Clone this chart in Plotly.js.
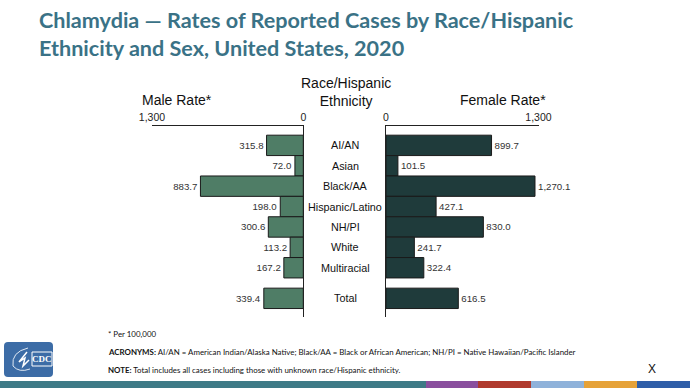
<!DOCTYPE html>
<html>
<head>
<meta charset="utf-8">
<script src="https://cdn.plot.ly/plotly-3.0.1.min.js"></script>
<style>
  html, body { margin: 0; padding: 0; background: #ffffff; }
  #chart { width: 690px; height: 388px; }
</style>
</head>
<body>
<div id="chart"></div>
<script>
// ---- Data ----
const categories = ["AI/AN", "Asian", "Black/AA", "Hispanic/Latino", "NH/PI", "White", "Multiracial", "Total"];
const maleRates = [315.8, 72.0, 883.7, 198.0, 300.6, 113.2, 167.2, 339.4];
const femaleRates = [899.7, 101.5, 1270.1, 427.1, 830.0, 241.7, 322.4, 616.5];
const tickValues = [0, 1300];
const tickLabels = ["0", "1,300"];

// ---- Layout helpers (pixel -> paper) ----
const W = 690, H = 388;
const px = x => x / W;
const py = y => 1 - y / H;

// Row positions: Total separated by an extra half row
const rowPos = categories.map((c, i) => c === "Total" ? i + 0.5 : i);

const maleColor = "#4f7d66";
const femaleColor = "#1f3b3b";
const outline = "#1a1a1a";
const labelFont = { family: "Liberation Sans, Arial, sans-serif", size: 9.7, color: "#333333" };

const traces = [
  {
    type: "bar", orientation: "h",
    x: maleRates, y: rowPos,
    xaxis: "x", yaxis: "y",
    marker: { color: maleColor, line: { color: outline, width: 1 } },
    texttemplate: "%{x:,.1f}", textposition: "outside",
    textfont: labelFont,
    cliponaxis: false, hoverinfo: "skip", showlegend: false
  },
  {
    type: "bar", orientation: "h",
    x: femaleRates, y: rowPos,
    xaxis: "x2", yaxis: "y2",
    marker: { color: femaleColor, line: { color: outline, width: 1 } },
    texttemplate: "%{x:,.1f}", textposition: "outside",
    textfont: labelFont,
    cliponaxis: false, hoverinfo: "skip", showlegend: false
  }
];

const axisFont = { family: "Liberation Sans, Arial, sans-serif", size: 10.5, color: "#222222" };
const yDomain = [py(316.7), py(126)];
const yRange = [8.4, -0.95];

const xCommon = {
  side: "top", showgrid: false, zeroline: false,
  showline: true, linecolor: "#222222", linewidth: 1,
  ticks: "inside", ticklen: 3, tickcolor: "#222222",
  tickvals: tickValues, ticktext: tickLabels, tickfont: axisFont,
  fixedrange: true
};

const annotations = [];
// Title
annotations.push({
  xref: "paper", yref: "paper", x: px(37), y: py(34), xanchor: "left", yanchor: "middle", align: "left",
  text: "<b>Chlamydia — Rates of Reported Cases by Race/Hispanic<br>Ethnicity and Sex, United States, 2020</b>",
  showarrow: false, font: { family: "Lato, Open Sans, sans-serif", size: 21.6, color: "#3a7286" }
});
// Category labels in the centre column
categories.forEach((c, i) => {
  annotations.push({
    xref: "paper", yref: "y", x: px(345), y: rowPos[i],
    text: c, showarrow: false, xanchor: "center", yanchor: "middle",
    font: { family: "Liberation Sans, Arial, sans-serif", size: 10.8, color: "#111111" }
  });
});
// Column headers
const headFont = { family: "Liberation Sans, Arial, sans-serif", size: 14, color: "#111111" };
annotations.push({ xref: "paper", yref: "paper", x: px(177), y: py(100), text: "Male Rate*", showarrow: false, xanchor: "center", yanchor: "middle", font: headFont });
annotations.push({ xref: "paper", yref: "paper", x: px(346), y: py(92), text: "Race/Hispanic<br>Ethnicity", showarrow: false, xanchor: "center", yanchor: "middle", font: headFont });
annotations.push({ xref: "paper", yref: "paper", x: px(503), y: py(100), text: "Female Rate*", showarrow: false, xanchor: "center", yanchor: "middle", font: headFont });
// Footnotes
const footFont = { family: "Lato, Liberation Sans, sans-serif", size: 7.9, color: "#111111" };
annotations.push({ xref: "paper", yref: "paper", x: px(106), y: py(334), text: "* Per 100,000", showarrow: false, xanchor: "left", yanchor: "middle", font: footFont });
annotations.push({ xref: "paper", yref: "paper", x: px(106), y: py(352), text: "<b>ACRONYMS:</b> AI/AN = American Indian/Alaska Native; Black/AA = Black or African American; NH/PI = Native Hawaiian/Pacific Islander", showarrow: false, xanchor: "left", yanchor: "middle", font: footFont });
annotations.push({ xref: "paper", yref: "paper", x: px(106), y: py(370), text: "<b>NOTE:</b> Total includes all cases including those with unknown race/Hispanic ethnicity.", showarrow: false, xanchor: "left", yanchor: "middle", font: footFont });
annotations.push({ xref: "paper", yref: "paper", x: px(652), y: py(369), text: "X", showarrow: false, xanchor: "center", yanchor: "middle", font: { family: "Liberation Sans, Arial, sans-serif", size: 12, color: "#111111" } });
// CDC logo text
annotations.push({ xref: "paper", yref: "paper", x: px(42), y: py(359), text: "<b>CDC</b>", showarrow: false, xanchor: "center", yanchor: "middle", font: { family: "Liberation Serif, serif", size: 9, color: "#ffffff" } });

// Shapes: CDC logo background, bottom colour strip
function roundedRect(x0, y0, x1, y1, r) {
  const X = v => px(v), Y = v => py(v);
  return `M ${X(x0 + r)},${Y(y0)} L ${X(x1 - r)},${Y(y0)} Q ${X(x1)},${Y(y0)} ${X(x1)},${Y(y0 + r)} ` +
         `L ${X(x1)},${Y(y1 - r)} Q ${X(x1)},${Y(y1)} ${X(x1 - r)},${Y(y1)} ` +
         `L ${X(x0 + r)},${Y(y1)} Q ${X(x0)},${Y(y1)} ${X(x0)},${Y(y1 - r)} ` +
         `L ${X(x0)},${Y(y0 + r)} Q ${X(x0)},${Y(y0)} ${X(x0 + r)},${Y(y0)} Z`;
}
const shapes = [
  { type: "path", xref: "paper", yref: "paper", path: roundedRect(4, 342, 53, 377, 4), fillcolor: "#3c6ca6", line: { width: 0 } },
  { type: "rect", xref: "paper", yref: "paper", x0: px(32), x1: px(52), y0: py(352), y1: py(366), fillcolor: "rgba(0,0,0,0)", line: { color: "#ffffff", width: 1 } },
  { type: "path", xref: "paper", yref: "paper",
    path: `M ${px(28)},${py(348)} Q ${px(11)},${py(352)} ${px(13)},${py(366)} Q ${px(19)},${py(373)} ${px(30)},${py(369)}`,
    fillcolor: "rgba(0,0,0,0)", line: { color: "#dfe8f3", width: 1 } },
  { type: "path", xref: "paper", yref: "paper",
    path: `M ${px(27)},${py(352)} L ${px(19)},${py(362)} L ${px(25)},${py(358)} L ${px(23)},${py(366)} L ${px(29)},${py(360)}`,
    fillcolor: "rgba(0,0,0,0)", line: { color: "#ffffff", width: 1.5 } }
];
const strip = [
  [0, 426, "#3e7a86"], [426, 478, "#8a4f9e"], [478, 531, "#b03a2e"],
  [531, 584, "#8fb2da"], [584, 637, "#e6a238"], [637, 690, "#2f5ea8"]
];
strip.forEach(s => shapes.push({ type: "rect", xref: "paper", yref: "paper", x0: px(s[0]), x1: px(s[1]), y0: 0, y1: py(381), fillcolor: s[2], line: { width: 0 }, layer: "above" }));

const layout = {
  width: W, height: H,
  margin: { l: 0, r: 0, t: 0, b: 0, pad: 0 },
  paper_bgcolor: "#ffffff", plot_bgcolor: "rgba(0,0,0,0)",
  bargap: 0,
  xaxis: Object.assign({}, xCommon, { domain: [px(152), px(303.3)], range: [1300, 0], anchor: "y" }),
  xaxis2: Object.assign({}, xCommon, { domain: [px(386), px(538.5)], range: [0, 1300], anchor: "y2" }),
  yaxis: { domain: yDomain, range: yRange, anchor: "x", side: "right", showticklabels: false, ticks: "", showgrid: false, zeroline: false, showline: true, linecolor: "#222222", linewidth: 1, fixedrange: true },
  yaxis2: { domain: yDomain, range: yRange, anchor: "x2", side: "left", showticklabels: false, ticks: "", showgrid: false, zeroline: false, showline: true, linecolor: "#222222", linewidth: 1, fixedrange: true },
  annotations: annotations,
  shapes: shapes
};

Plotly.newPlot("chart", traces, layout, { displayModeBar: false, staticPlot: true });
</script>
</body>
</html>
